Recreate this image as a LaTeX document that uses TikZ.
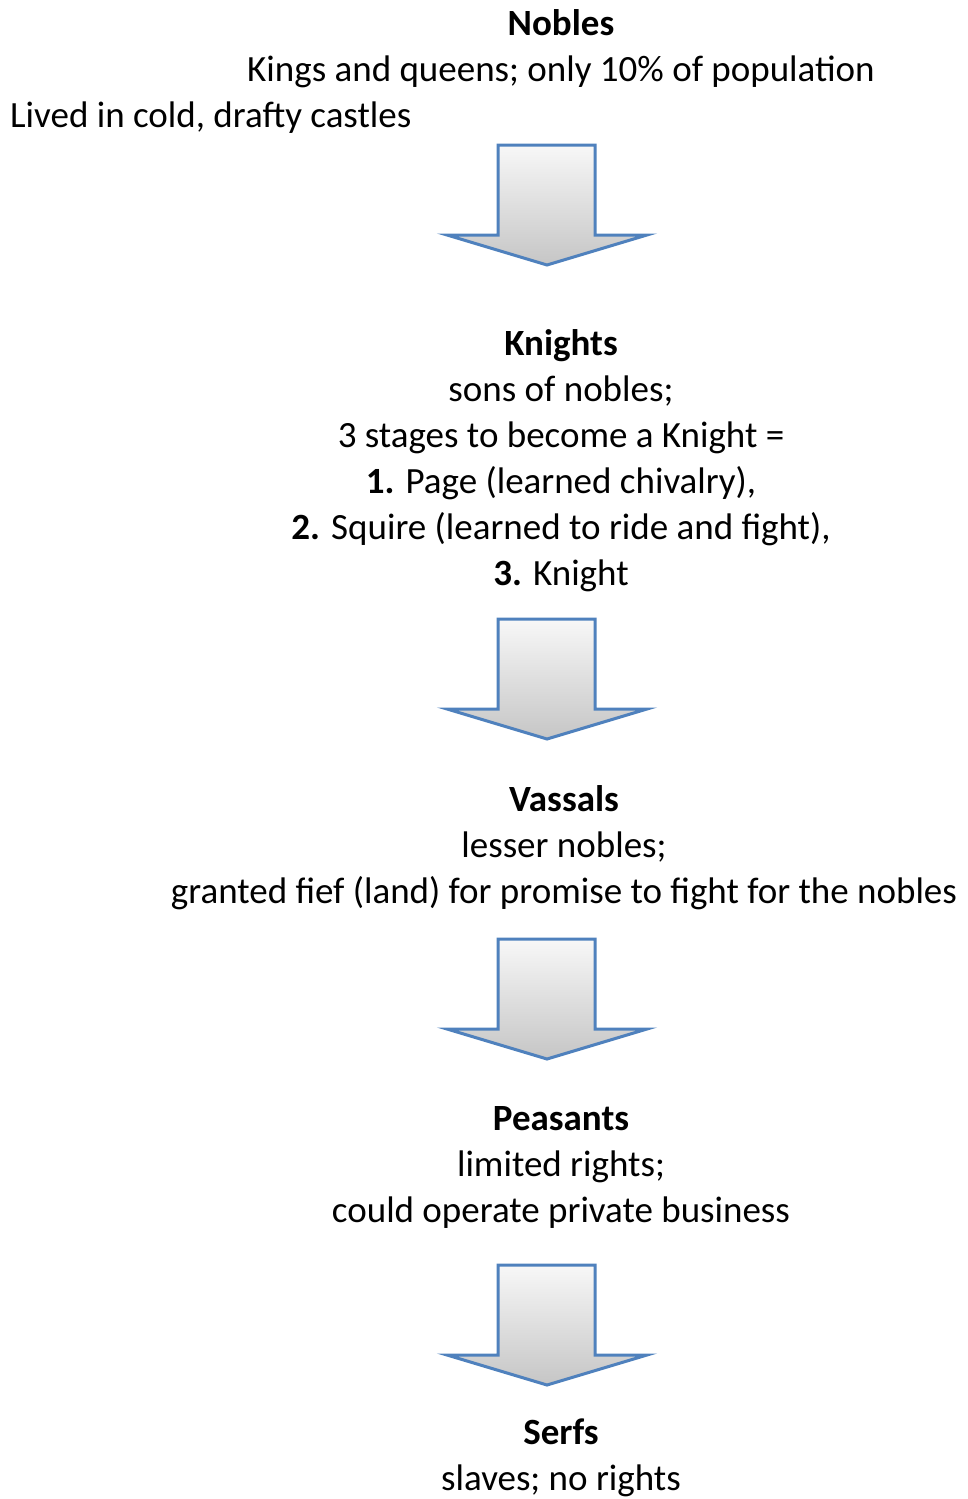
\documentclass[tikz,border=0pt]{standalone}
\usepackage{fontspec}
\setmainfont{Carlito}
\usepackage{tikz}

\definecolor{arrowblue}{RGB}{79,129,189}

\tikzset{
    tier/.style={align=center, inner sep=0pt, anchor=base, font=\fontsize{37}{46}\selectfont},
    blockarrow/.style={draw=arrowblue, line width=3pt, line join=miter, top color=gray!6, bottom color=gray!45}
}

\begin{document}
\begin{tikzpicture}[x=1pt, y=-1pt]
    \useasboundingbox (0,0) rectangle (967,1499);

    % anchor base = baseline of the last line
    \node[tier] (nobles) at (561,81) {\textbf{Nobles}\\Kings and queens; only 10\% of population};
    \node[tier, anchor=base west] (castles) at (10,127) {Lived in cold, drafty castles};
    \node[tier] (knights) at (561,585) {\textbf{Knights}\\sons of nobles;\\3 stages to become a Knight =\\\textbf{1.} Page (learned chivalry),\\\textbf{2.} Squire (learned to ride and fight),\\\textbf{3.} Knight};
    \node[tier] (vassals) at (564,903) {\textbf{Vassals}\\lesser nobles;\\granted fief (land) for promise to fight for the nobles};
    \node[tier] (peasants) at (561,1222) {\textbf{Peasants}\\limited rights;\\could operate private business};
    \node[tier] (serfs) at (561,1490) {\textbf{Serfs}\\slaves; no rights};

    % block arrows between the tiers
    \foreach \t in {145,619,939,1265}
        \path[blockarrow] (498,\t) -- (595,\t) -- (595,\t+90) -- (647,\t+90)
            -- (547,\t+120) -- (447,\t+90) -- (498,\t+90) -- cycle;
\end{tikzpicture}
\end{document}
